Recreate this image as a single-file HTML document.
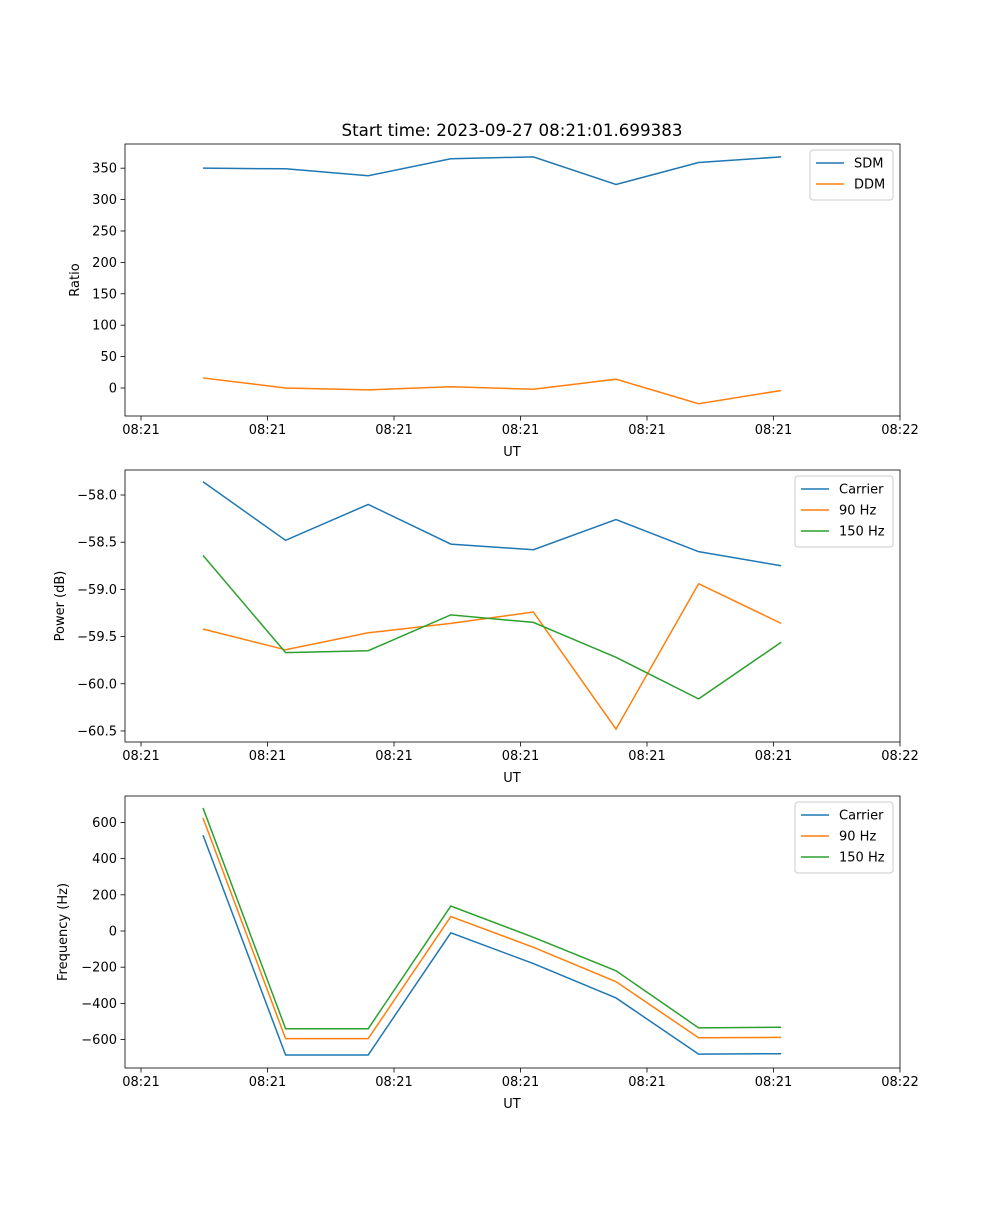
<!DOCTYPE html>
<html><head><meta charset="utf-8"><style>
body{margin:0;background:#fff;font-family:"Liberation Sans","DejaVu Sans",sans-serif}
svg text{font-family:"DejaVu Sans","Liberation Sans",sans-serif}
</style></head><body>
<svg id="fig" width="1000" height="1200" xmlns="http://www.w3.org/2000/svg">
<text x="512" y="136" font-size="16.7" text-anchor="middle">Start time: 2023-09-27 08:21:01.699383</text>
</svg>
<script>
const times=[0,1,2,3,4,5,6,7];
const xTickLabels=["08:21","08:21","08:21","08:21","08:21","08:21","08:22"];
const sdm=[350,349,338,365,368,324,359,368];
const ddm=[16,0,-3,2,-2,14,-25,-4];
const pCarrier=[-57.86,-58.48,-58.10,-58.52,-58.58,-58.26,-58.60,-58.75];
const p90=[-59.42,-59.64,-59.46,-59.36,-59.24,-60.48,-58.94,-59.36];
const p150=[-58.64,-59.67,-59.65,-59.27,-59.35,-59.72,-60.16,-59.56];
const fCarrier=[530,-685,-685,-10,-180,-370,-680,-678];
const f90=[625,-595,-595,80,-90,-280,-590,-588];
const f150=[680,-540,-540,138,-35,-220,-535,-532];
const ticks1=[0,50,100,150,200,250,300,350];
const ticks2=[-60.5,-60.0,-59.5,-59.0,-58.5,-58.0];
const ticks3=[-600,-400,-200,0,200,400,600];

const NS="http://www.w3.org/2000/svg";
const svg=document.getElementById('fig');
function mk(tag,attrs,parent){const e=document.createElementNS(NS,tag);for(const k in attrs)e.setAttribute(k,attrs[k]);(parent||svg).appendChild(e);return e;}
const L=125,R=900;
function xs(i){return 203+i*82.6;}
function xTick(k){return 141+k*126.5;}
const colors=["#1f77b4","#ff7f0e","#2ca02c"];

function panel(name,top,bottom,ymin,ymax,yticks,fmt,ylabel,series,names,legendW){
  const g=mk('g',{});
  
  
  const ys=v=>bottom-(v-ymin)/(ymax-ymin)*(bottom-top);
  series.forEach((s,si)=>{
    const p=mk('polyline',{points:s.map((v,i)=>xs(times[i])+','+ys(v)).join(' '),fill:'none',stroke:colors[si],'stroke-width':1.5},g);
    
    
  });
  const fr=mk('rect',{x:L,y:top,width:R-L,height:bottom-top,fill:'none',stroke:'#000','stroke-width':0.8},g);
  
  
  xTickLabels.forEach((t,k)=>{
    const x=xTick(k);
    mk('line',{x1:x,x2:x,y1:bottom,y2:bottom+4.5,stroke:'#000','stroke-width':0.8},g);
    const tx=mk('text',{x:x,y:bottom+18,'font-size':13,'text-anchor':'middle'},g);tx.textContent=t;
    
    
  });
  const xl=mk('text',{x:512,y:bottom+40,'font-size':13,'text-anchor':'middle'},g);xl.textContent='UT';
  
  
  yticks.forEach(v=>{
    const y=ys(v);
    mk('line',{x1:L-4.5,x2:L,y1:y,y2:y,stroke:'#000','stroke-width':0.8},g);
    const tx=mk('text',{x:L-8,y:y+4.5,'font-size':13,'text-anchor':'end'},g);tx.textContent=fmt(v);
    
    
  });
  const yl=mk('text',{x:0,y:0,'font-size':13,'text-anchor':'middle',transform:`translate(${ylabel[1]},${(top+bottom)/2}) rotate(-90)`},g);yl.textContent=ylabel[0];
  
  
  const lx=R-7-legendW, ly=top+6, lh=8+names.length*21;
  const lg=mk('g',{},g);
  
  
  mk('rect',{x:lx,y:ly,width:legendW,height:lh,rx:3,fill:'#fff',stroke:'#ccc','stroke-width':1},lg);
  names.forEach((n,i)=>{
    const yy=ly+13+i*21;
    mk('line',{x1:lx+6,x2:lx+34,y1:yy,y2:yy,stroke:colors[i],'stroke-width':1.5},lg);
    const t=mk('text',{x:lx+44,y:yy+4.5,'font-size':13},lg);t.textContent=n;
    
    
  });
}
panel('ratio',144,416,-44.6,388.5,ticks1,v=>String(v),['Ratio',79],[sdm,ddm],['SDM','DDM'],83);
panel('power',470,742,-60.617,-57.735,ticks2,v=>'\u2212'+Math.abs(v).toFixed(1),['Power (dB)',64],[pCarrier,p90,p150],['Carrier','90 Hz','150 Hz'],98);
panel('frequency',796,1068,-757,746,ticks3,v=>(v<0?'\u2212':'')+Math.abs(v),['Frequency (Hz)',67],[fCarrier,f90,f150],['Carrier','90 Hz','150 Hz'],98);
</script>
</body></html>
